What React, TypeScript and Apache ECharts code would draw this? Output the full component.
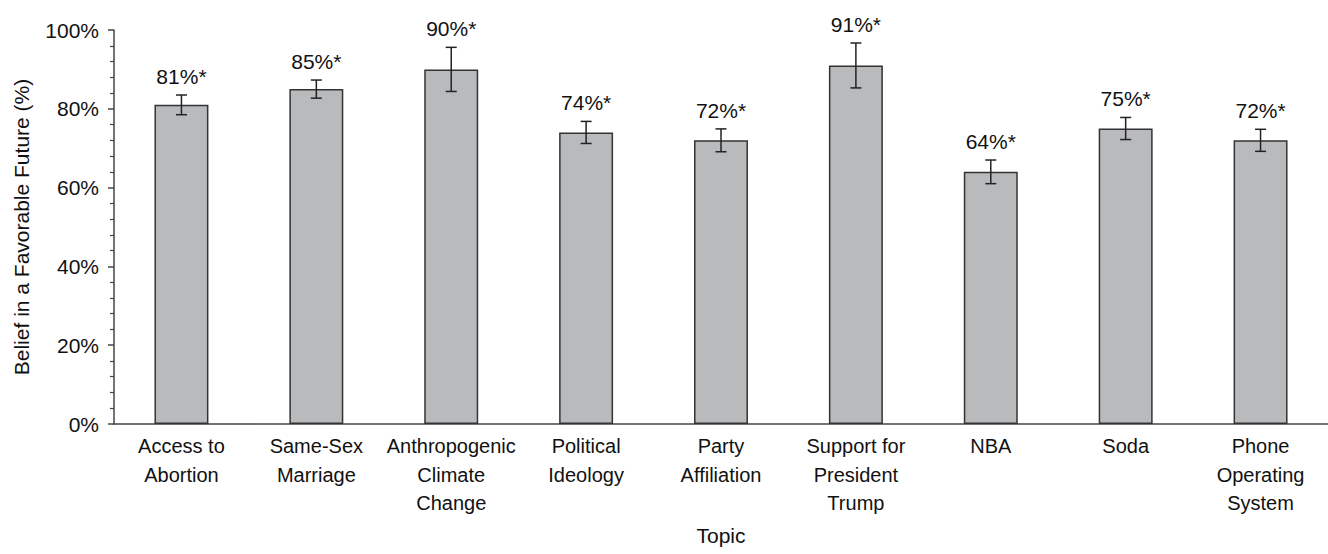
import React, { useEffect, useRef } from "react";
import * as echarts from "echarts";

const categories = [
  "Access to\nAbortion",
  "Same-Sex\nMarriage",
  "Anthropogenic\nClimate\nChange",
  "Political\nIdeology",
  "Party\nAffiliation",
  "Support for\nPresident\nTrump",
  "NBA",
  "Soda",
  "Phone\nOperating\nSystem",
];
const values = [81, 85, 90, 74, 72, 91, 64, 75, 72];
const errors = [2.5, 2.3, 5.6, 2.8, 2.9, 5.7, 3.0, 2.8, 2.8];
const yMin = 0;
const yMax = 100;
const yStep = 20;

const FONT = "'Liberation Sans', Arial, sans-serif";
const TEXT = "#111111";

export default function App() {
  const ref = useRef<HTMLDivElement>(null);
  useEffect(() => {
    if (!ref.current) return;
    const chart = echarts.init(ref.current, undefined, { renderer: "svg" });
    chart.setOption({
      animation: false,
      backgroundColor: "#ffffff",
      grid: { left: 114, right: 0, top: 30, bottom: 130, containLabel: false, outerBoundsMode: "none" },
      xAxis: {
        type: "category",
        data: categories,
        name: "Topic",
        nameLocation: "middle",
        nameGap: 101,
        nameTextStyle: { fontFamily: FONT, fontSize: 21, color: TEXT },
        axisLine: { show: true, lineStyle: { color: "#444", width: 1.5 } },
        axisTick: { show: false },
        axisLabel: {
          fontFamily: FONT,
          fontSize: 20,
          color: TEXT,
          lineHeight: 28.5,
          margin: 8,
          interval: 0,
        },
      },
      yAxis: {
        type: "value",
        min: yMin,
        max: yMax,
        interval: yStep,
        name: "Belief in a Favorable Future (%)",
        nameLocation: "middle",
        nameGap: 82,
        nameTextStyle: { fontFamily: FONT, fontSize: 21, color: TEXT },
        splitLine: { show: false },
        axisLine: { show: true, lineStyle: { color: "#444", width: 1.5 } },
        axisTick: { show: true, length: 6, lineStyle: { color: "#444", width: 1.5 } },
        minorTick: { show: true, splitNumber: 5, length: 4, lineStyle: { color: "#444", width: 1.2 } },
        axisLabel: {
          fontFamily: FONT,
          fontSize: 21,
          color: TEXT,
          margin: 15,
          formatter: "{value}%",
        },
      },
      series: [
        {
          type: "bar",
          data: values,
          barWidth: "40%",
          itemStyle: { color: "#b9babc", borderColor: "#333333", borderWidth: 1.5 },
          z: 2,
        },
        {
          type: "custom",
          data: values.map((v, i) => [i, v, errors[i]]),
          encode: { x: 0, y: 1 },
          z: 3,
          renderItem: (params: any, api: any) => {
            const i = api.value(0);
            const v = api.value(1);
            const e = api.value(2);
            const top = api.coord([i, v + e]);
            const bot = api.coord([i, v - e]);
            const x = top[0];
            const cap = 5.5;
            const ls = { stroke: "#222222", lineWidth: 1.5 };
            return {
              type: "group",
              children: [
                { type: "line", shape: { x1: x, y1: top[1], x2: x, y2: bot[1] }, style: ls },
                { type: "line", shape: { x1: x - cap, y1: top[1], x2: x + cap, y2: top[1] }, style: ls },
                { type: "line", shape: { x1: x - cap, y1: bot[1], x2: x + cap, y2: bot[1] }, style: ls },
                {
                  type: "text",
                  x: x,
                  y: top[1] - 8,
                  style: {
                    text: `${v}%*`,
                    fontFamily: FONT,
                    fontSize: 21,
                    fill: TEXT,
                    textAlign: "center",
                    textVerticalAlign: "bottom",
                  },
                },
              ],
            };
          },
        },
      ],
    });
    return () => chart.dispose();
  }, []);
  return (
    <div
      ref={ref}
      style={{ position: "fixed", left: 0, top: 0, width: 1328, height: 554, background: "#fff" }}
    />
  );
}
